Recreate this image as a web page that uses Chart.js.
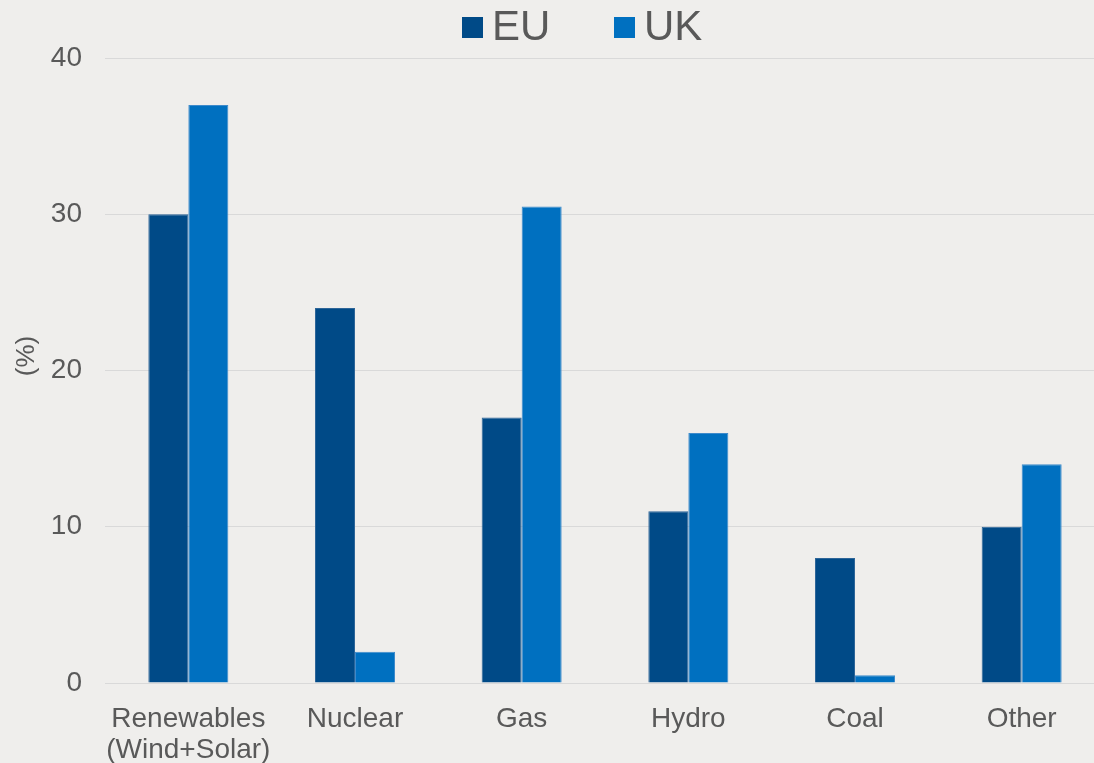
<!DOCTYPE html>
<html>
<head>
<meta charset="utf-8">
<script src="https://cdn.jsdelivr.net/npm/chart.js@4/dist/chart.umd.min.js"></script>
<style>
  html, body { margin: 0; padding: 0; background: #efeeec; overflow: hidden; }
  #wrap { position: relative; width: 1106px; height: 763px; }
  #chart { position: absolute; left: 0; top: 0; }
  #legend { position: absolute; left: 0; top: 0; width: 1106px; height: 58px; }
  .item { position: absolute; top: 0; height: 58px; }
  .box { position: absolute; top: 17px; width: 21px; height: 21px; }
  .lbl { position: absolute; top: 5px; left: 30px; font: 42px/42px "Liberation Sans", Arial, sans-serif; color: #595959; white-space: nowrap; }
</style>
</head>
<body>
<div id="wrap">
  <canvas id="chart" width="1106" height="763"></canvas>
  <div id="legend"></div>
</div>
<script>
// Electricity generation mix by source (%)
const categories = [["Renewables", "(Wind+Solar)"], "Nuclear", "Gas", "Hydro", "Coal", "Other"];
const euValues = [30, 24, 17, 11, 8, 10];
const ukValues = [37, 2, 30.5, 16, 0.5, 14];
const seriesNames = ["EU", "UK"];
const yTicks = [0, 10, 20, 30, 40];

const euColor = "#004a87";
const ukColor = "#0070c0";
const textColor = "#595959";
const fontFamily = '"Liberation Sans", Arial, sans-serif';

const bgPlugin = {
  id: "bg",
  beforeDraw(chart) {
    const ctx = chart.ctx;
    ctx.save();
    ctx.fillStyle = "#efeeec";
    ctx.fillRect(0, 0, chart.width, chart.height);
    ctx.restore();
  }
};

const chart = new Chart(document.getElementById("chart"), {
  type: "bar",
  data: {
    labels: categories,
    datasets: [
      { label: seriesNames[0], data: euValues, backgroundColor: euColor,
        borderColor: "#2d6598", borderWidth: 1 },
      { label: seriesNames[1], data: ukValues, backgroundColor: ukColor,
        borderColor: "#3d8acb", borderWidth: 1 }
    ]
  },
  options: {
    responsive: false,
    animation: false,
    layout: { padding: { top: 58, right: 1, left: 0, bottom: 0 } },
    plugins: {
      legend: { display: false },
      tooltip: { enabled: false }
    },
    datasets: { bar: { categoryPercentage: 0.48, barPercentage: 1.0 } },
    scales: {
      x: {
        grid: { display: false },
        border: { display: false },
        ticks: {
          color: textColor,
          padding: 13,
          maxRotation: 0,
          autoSkip: false,
          font: { family: fontFamily, size: 28, lineHeight: 1.1 }
        },
        afterFit(scale) { scale.height = 80; }
      },
      y: {
        min: yTicks[0],
        max: yTicks[yTicks.length - 1],
        afterBuildTicks(scale) { scale.ticks = yTicks.map(v => ({ value: v })); },
        grid: { color: "#d9d9d9", lineWidth: 1, drawTicks: false },
        border: { display: false },
        ticks: {
          color: textColor,
          padding: 23,
          font: { family: fontFamily, size: 28 }
        },
        title: {
          display: true,
          text: "    (%)",
          color: textColor,
          padding: { top: 11, bottom: 0 },
          font: { family: fontFamily, size: 26 }
        },
        afterFit(scale) { scale.width = 105; }
      }
    }
  },
  plugins: [bgPlugin]
});

// Legend built from the chart's datasets
const legend = document.getElementById("legend");
const legendX = [462, 614];
chart.data.datasets.forEach((ds, i) => {
  const item = document.createElement("div");
  item.className = "item";
  item.style.left = legendX[i] + "px";
  const box = document.createElement("div");
  box.className = "box";
  box.style.background = ds.backgroundColor;
  const lbl = document.createElement("div");
  lbl.className = "lbl";
  lbl.textContent = ds.label;
  item.appendChild(box);
  item.appendChild(lbl);
  legend.appendChild(item);
});
</script>
</body>
</html>
